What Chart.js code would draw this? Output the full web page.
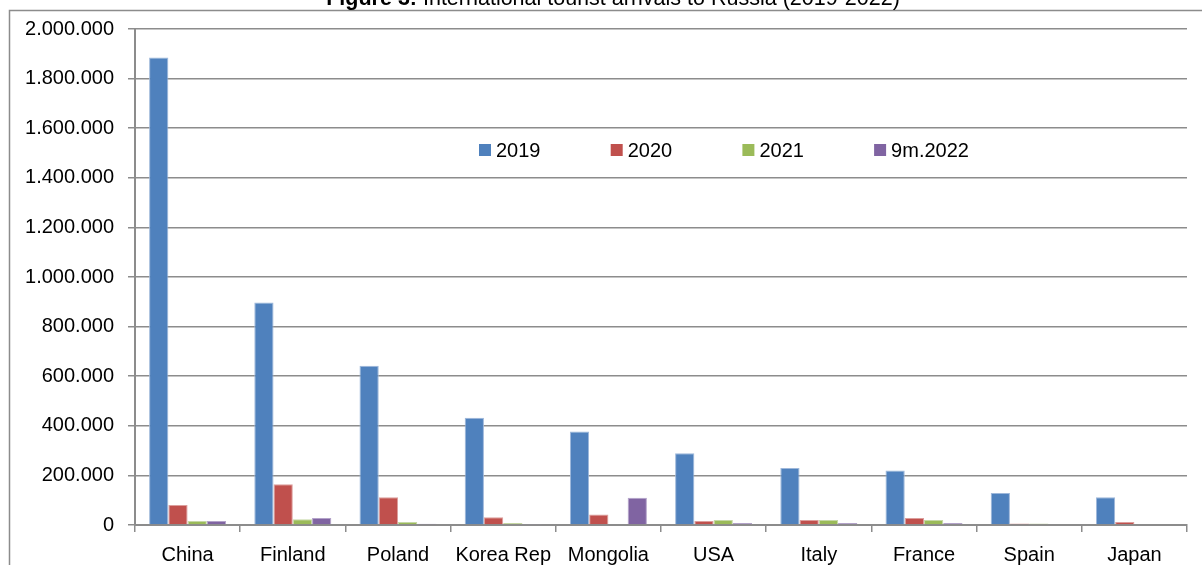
<!DOCTYPE html>
<html>
<head>
<meta charset="utf-8">
<script src="https://cdn.jsdelivr.net/npm/chart.js@4/dist/chart.umd.min.js"></script>
<style>
  html, body { margin: 0; padding: 0; background: #fff; overflow: hidden; }
  #wrap { position: relative; width: 1202px; height: 565px; }
</style>
</head>
<body>
<div id="wrap"><canvas id="arrivals"></canvas></div>
<script>
// International tourist arrivals to Russia by source country
const countries = ['China', 'Finland', 'Poland', 'Korea Rep', 'Mongolia', 'USA', 'Italy', 'France', 'Spain', 'Japan'];
const years = ['2019', '2020', '2021', '9m.2022'];

const arrivals2019 = [1885000, 897000, 642000, 432000, 377000, 289000, 230000, 220000, 129000, 112000];
const arrivals2020 = [81000, 164000, 112000, 31000, 42000, 16000, 20000, 28000, 6000, 12000];
const arrivals2021 = [16000, 23000, 12000, 8000, 0, 20000, 20000, 20000, 6000, 0];
const arrivals9m2022 = [16000, 28000, 5000, 4000, 110000, 8000, 8000, 8000, 0, 0];

const yTicks = [0, 200000, 400000, 600000, 800000, 1000000, 1200000, 1400000, 1600000, 1800000, 2000000];

const fills = ['#4f81bd', '#c0504d', '#9bbb59', '#8064a2'];
const edges = ['#9db7da', '#dc9e9c', '#c6d8a6', '#b3a2c9'];
const GRID = '#8c8c8c';

const FAMILY = '"Liberation Sans", Arial, sans-serif';
const FS = 20;

function dotted(v) {
    return String(v).replace(/\B(?=(\d{3})+(?!\d))/g, '.');
}

// Outer frame + cut-off figure caption
const framePlugin = {
    id: 'frame',
    beforeDraw(chart) {
        const ctx = chart.ctx;
        ctx.save();
        ctx.strokeStyle = GRID;
        ctx.lineWidth = 1.5;
        ctx.beginPath();
        ctx.moveTo(9.5, chart.height);
        ctx.lineTo(9.5, 10.5);
        ctx.lineTo(chart.width, 10.5);
        ctx.stroke();

        const bold = 'Figure 3:';
        const rest = ' International tourist arrivals to Russia (2019-2022)';
        const size = 21.5;
        ctx.fillStyle = '#000';
        ctx.textBaseline = 'alphabetic';
        ctx.font = `bold ${size}px ${FAMILY}`;
        const wb = ctx.measureText(bold).width;
        ctx.font = `${size}px ${FAMILY}`;
        const wr = ctx.measureText(rest).width;
        const x0 = 613 - (wb + wr) / 2;
        ctx.font = `bold ${size}px ${FAMILY}`;
        ctx.fillText(bold, x0, 5);
        ctx.font = `${size}px ${FAMILY}`;
        ctx.fillText(rest, x0 + wb, 5);
        ctx.restore();
    }
};

// Legend row placed inside the plot area
const innerLegend = {
    id: 'innerLegend',
    afterDatasetsDraw(chart, args, opts) {
        const ctx = chart.ctx;
        ctx.save();
        ctx.font = `${FS}px ${FAMILY}`;
        ctx.textBaseline = 'middle';
        chart.data.datasets.forEach((ds, i) => {
            const x = opts.x + i * opts.step;
            ctx.fillStyle = ds.backgroundColor;
            ctx.fillRect(x, opts.y - 6, 12, 12);
            ctx.fillStyle = '#000';
            ctx.fillText(ds.label, x + 17, opts.y + 1);
        });
        ctx.restore();
    }
};

const series = [arrivals2019, arrivals2020, arrivals2021, arrivals9m2022];

new Chart(document.getElementById('arrivals'), {
    type: 'bar',
    data: {
        labels: countries,
        datasets: years.map((y, i) => ({
            label: y,
            data: series[i],
            backgroundColor: fills[i],
            borderColor: edges[i],
            borderWidth: { top: 1, left: 1, right: 1, bottom: 0 },
            borderSkipped: 'start',
            categoryPercentage: 0.732,
            barPercentage: 1.0,
        })),
    },
    options: {
        responsive: true,
        maintainAspectRatio: false,
        animation: false,
        events: [],
        layout: { padding: { top: 29, right: 15, left: 0, bottom: 0 } },
        plugins: {
            legend: { display: false },
            tooltip: { enabled: false },
            innerLegend: { x: 479, y: 150, step: 131.7 },
        },
        scales: {
            x: {
                grid: { drawOnChartArea: false, offset: true, tickLength: 7, color: GRID, lineWidth: 1.5 },
                border: { color: GRID, width: 2 },
                ticks: { color: '#000', font: { family: FAMILY, size: FS }, padding: 11, maxRotation: 0, autoSkip: false },
                afterFit(scale) { scale.height = 40; },
            },
            y: {
                min: 0,
                max: 2000000,
                afterBuildTicks(scale) { scale.ticks = yTicks.map(v => ({ value: v })); },
                grid: { color: GRID, lineWidth: 1.5, tickLength: 7 },
                border: { color: GRID, width: 2 },
                ticks: {
                    color: '#000',
                    font: { family: FAMILY, size: FS },
                    padding: 14,
                    callback: v => dotted(v),
                },
                afterFit(scale) { scale.width = 135; },
            },
        },
    },
    plugins: [framePlugin, innerLegend],
});
</script>
</body>
</html>
